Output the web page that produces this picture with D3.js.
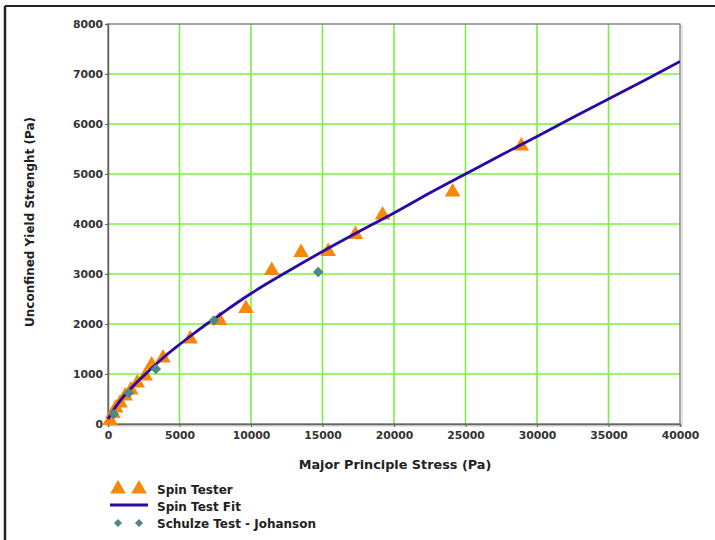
<!DOCTYPE html>
<html>
<head>
<meta charset="utf-8">
<script src="https://cdn.jsdelivr.net/npm/d3@7"></script>
<style>
  html, body { margin: 0; padding: 0; background: #fff; }
  svg { display: block; font-family: "DejaVu Sans", Verdana, sans-serif; }
</style>
</head>
<body>
<svg id="chart" width="715" height="540"></svg>
<script>
// ---- data ----
const spinX = [28900, 24100, 19200, 17300, 15400, 13500, 11450, 9650, 7800, 5750, 3850, 3050, 2600, 2050, 1600, 1200, 850, 550, 350, 150];
const spinY = [5560, 4640, 4180, 3790, 3450, 3430, 3070, 2310, 2070, 1700, 1320, 1180, 960, 820, 680, 560, 420, 320, 210, 70];
const fitX = [0, 500, 1000, 2000, 3000, 4000, 5000, 6000, 7000, 8000, 9000, 10000, 12500, 15000, 17500, 20000, 22500, 25000, 27500, 30000, 32500, 35000, 37500, 40000];
const fitY = [100, 330, 520, 830, 1100, 1360, 1590, 1810, 2020, 2220, 2420, 2610, 3040, 3450, 3840, 4220, 4620, 5000, 5380, 5750, 6130, 6500, 6870, 7250];
const schX = [14700, 7400, 3350, 1450, 400];
const schY = [3040, 2070, 1100, 620, 200];
const xTicks = [0, 5000, 10000, 15000, 20000, 25000, 30000, 35000, 40000];
const yTicks = [0, 1000, 2000, 3000, 4000, 5000, 6000, 7000, 8000];
const legendLabels = ["Spin Tester", "Spin Test Fit", "Schulze Test - Johanson"];

// ---- layout ----
const svg = d3.select("#chart");
const L = 108, R = 680, T = 24, B = 424;
const x = d3.scaleLinear().domain([0, 40000]).range([L, R]);
const y = d3.scaleLinear().domain([0, 8000]).range([B, T]);

const orange = "#f5870a", blue = "#2a07a6", teal = "#4e8887", grid = "#7cf03e";
const FONT = "DejaVu Sans, Verdana, sans-serif";

// outer frame
svg.append("line").attr("x1", 5).attr("x2", 715).attr("y1", 6).attr("y2", 6)
  .attr("stroke", "#222").attr("stroke-width", 2);
svg.append("line").attr("x1", 5).attr("x2", 5).attr("y1", 6).attr("y2", 540)
  .attr("stroke", "#222").attr("stroke-width", 2.5);

// plot shadow + background
svg.append("rect").attr("x", L + 2).attr("y", T + 2).attr("width", R - L).attr("height", B - T)
  .attr("fill", "none").attr("stroke", "#ddd").attr("stroke-width", 1.5);
svg.append("rect").attr("x", L).attr("y", T).attr("width", R - L).attr("height", B - T)
  .attr("fill", "#fff");

// grid
svg.append("g").selectAll("line").data(xTicks.slice(1, -1)).join("line")
  .attr("x1", d => x(d)).attr("x2", d => x(d)).attr("y1", T).attr("y2", B)
  .attr("stroke", grid).attr("stroke-width", 1.6);
svg.append("g").selectAll("line").data(yTicks.slice(1, -1)).join("line")
  .attr("x1", L).attr("x2", R).attr("y1", d => y(d)).attr("y2", d => y(d))
  .attr("stroke", grid).attr("stroke-width", 1.6);

// plot border
svg.append("rect").attr("x", L).attr("y", T).attr("width", R - L).attr("height", B - T)
  .attr("fill", "none").attr("stroke", "#777").attr("stroke-width", 1.3);

// axes
const xAxis = svg.append("g").attr("transform", `translate(0,${B})`)
  .call(d3.axisBottom(x).tickValues(xTicks).tickFormat(d3.format("d")).tickSize(3).tickPadding(4));
const yAxis = svg.append("g").attr("transform", `translate(${L},0)`)
  .call(d3.axisLeft(y).tickValues(yTicks).tickFormat(d3.format("d")).tickSize(3).tickPadding(2));
[xAxis, yAxis].forEach(g => {
  g.select(".domain").attr("stroke", "#666").attr("stroke-width", 1.5);
  g.selectAll(".tick line").attr("stroke", "#666");
  g.selectAll(".tick text").attr("font-size", 10.8).attr("font-weight", "bold")
    .attr("fill", "#333").attr("font-family", FONT);
});

// axis titles
svg.append("text").attr("x", 395).attr("y", 469).attr("text-anchor", "middle")
  .attr("font-size", 12.8).attr("font-weight", "bold").attr("fill", "#222")
  .attr("font-family", FONT).text("Major Principle Stress (Pa)");
svg.append("text").attr("transform", "translate(34,222) rotate(-90)").attr("text-anchor", "middle")
  .attr("font-size", 12).attr("font-weight", "bold").attr("fill", "#222")
  .attr("font-family", FONT).text("Unconfined Yield Strenght (Pa)");

// clip
svg.append("clipPath").attr("id", "clip").append("rect")
  .attr("x", L - 8).attr("y", T).attr("width", R - L + 8).attr("height", B - T + 6);

const tri = d3.symbol().type(d3.symbolTriangle).size(105);
const sq = d3.symbol().type(d3.symbolSquare).size(55);

const plot = svg.append("g").attr("clip-path", "url(#clip)");

// spin tester triangles
plot.append("g").selectAll("path").data(spinX.map((d, i) => [d, spinY[i]])).join("path")
  .attr("d", tri).attr("transform", d => `translate(${x(d[0])},${y(d[1])})`)
  .attr("fill", orange);

// fit line
const lineGen = d3.line().x(d => x(d[0])).y(d => y(d[1])).curve(d3.curveMonotoneX);
plot.append("path").datum(fitX.map((d, i) => [d, fitY[i]]))
  .attr("d", lineGen).attr("fill", "none").attr("stroke", blue).attr("stroke-width", 2.8);

// schulze diamonds
plot.append("g").selectAll("path").data(schX.map((d, i) => [d, schY[i]])).join("path")
  .attr("d", sq).attr("transform", d => `translate(${x(d[0])},${y(d[1])}) rotate(45)`)
  .attr("fill", teal);

// legend
const lg = svg.append("g");
[118, 139].forEach(cx => {
  lg.append("path").attr("d", tri).attr("transform", `translate(${cx},489)`).attr("fill", orange);
  lg.append("path").attr("d", d3.symbol().type(d3.symbolSquare).size(34))
    .attr("transform", `translate(${cx},523) rotate(45)`).attr("fill", teal);
});
lg.append("line").attr("x1", 110).attr("x2", 148).attr("y1", 505).attr("y2", 505)
  .attr("stroke", blue).attr("stroke-width", 2.8);
legendLabels.forEach((t, i) => {
  lg.append("text").attr("x", 157).attr("y", 494 + i * 17).attr("font-size", 12)
    .attr("font-weight", "bold").attr("fill", "#222").attr("font-family", FONT).text(t);
});
</script>
</body>
</html>
